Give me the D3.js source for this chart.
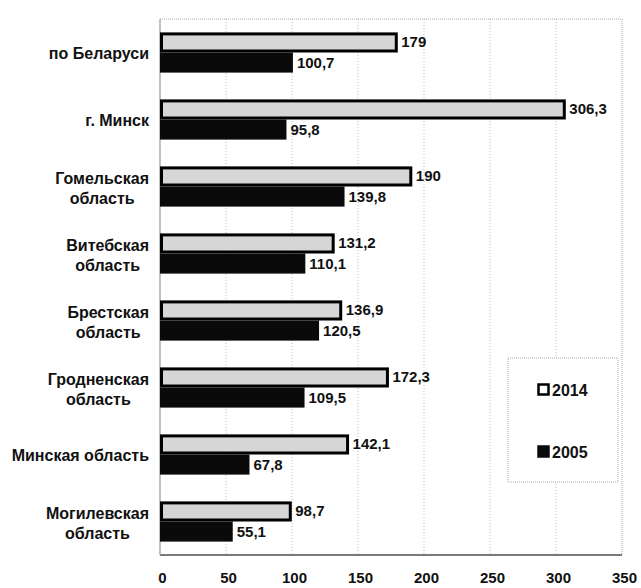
<!DOCTYPE html>
<html><head><meta charset="utf-8">
<script src="https://cdn.jsdelivr.net/npm/d3@7"></script>
<style>body{margin:0;background:#fff;} svg{display:block;font-family:"Liberation Sans",Arial,sans-serif;}</style>
</head><body>
<svg id="c" width="641" height="588"></svg>
<script>
const categories = [
  ["по Беларуси"],
  ["г. Минск"],
  ["Гомельская", "область"],
  ["Витебская", "область"],
  ["Брестская", "область"],
  ["Гродненская", "область"],
  ["Минская область"],
  ["Могилевская", "область"]
];
const values2014 = [179, 306.3, 190, 131.2, 136.9, 172.3, 142.1, 98.7];
const values2005 = [100.7, 95.8, 139.8, 110.1, 120.5, 109.5, 67.8, 55.1];
const labels2014 = ["179", "306,3", "190", "131,2", "136,9", "172,3", "142,1", "98,7"];
const labels2005 = ["100,7", "95,8", "139,8", "110,1", "120,5", "109,5", "67,8", "55,1"];
const xTicks = [0, 50, 100, 150, 200, 250, 300, 350];
const seriesNames = ["2014", "2005"];

const svg = d3.select("#c");
const L = 160, R = 622, T = 19, B = 555;
const x = d3.scaleLinear().domain([0, 350]).range([L, R]);
const idx = categories.map((d, i) => i);
const y = d3.scaleBand().domain(idx).range([T, B]).paddingInner(0.4).paddingOuter(0.2);
const sub = d3.scaleBand().domain([0, 1]).range([0, y.bandwidth()]);

// gridlines
svg.append("g").selectAll("line").data(xTicks.slice(1, -1)).join("line")
  .attr("x1", d => x(d)).attr("x2", d => x(d)).attr("y1", T).attr("y2", B)
  .attr("stroke", "#bbb").attr("stroke-width", 1).attr("stroke-dasharray", "1,2");
// frame
svg.append("rect").attr("x", L).attr("y", T).attr("width", R - L).attr("height", B - T)
  .attr("fill", "none").attr("stroke", "#aaa").attr("stroke-dasharray", "1,1");
svg.append("line").attr("x1", L).attr("x2", R).attr("y1", B).attr("y2", B).attr("stroke", "#555").attr("stroke-width", 1.5);
svg.append("line").attr("x1", L).attr("x2", L).attr("y1", T).attr("y2", B).attr("stroke", "#999").attr("stroke-width", 1);

// x axis
const xAxis = d3.axisBottom(x).tickValues(xTicks).tickSize(0).tickFormat(d3.format("d"));
const ax = svg.append("g").attr("transform", `translate(2,${B + 14})`).call(xAxis);
ax.select(".domain").remove();
ax.selectAll("text").attr("font-size", 15).attr("font-weight", "bold").attr("fill", "#111")
  .attr("font-family", "'Liberation Sans',Arial,sans-serif");

// bars 2014
const g = svg.append("g");
g.selectAll(".b14").data(values2014).join("rect")
  .attr("x", x(0) + 1.5).attr("y", (d, i) => y(i) + sub(0) + 1.5)
  .attr("width", d => x(d) - x(0) - 1.5).attr("height", sub.bandwidth() - 3)
  .attr("fill", "#d6d6d6").attr("stroke", "#000").attr("stroke-width", 3);
g.selectAll(".b05").data(values2005).join("rect")
  .attr("x", x(0)).attr("y", (d, i) => y(i) + sub(1))
  .attr("width", d => x(d) - x(0)).attr("height", sub.bandwidth())
  .attr("fill", "#0a0a0a");

// value labels
g.selectAll(".l14").data(values2014).join("text")
  .attr("x", d => x(d) + 5).attr("y", (d, i) => y(i) + sub(0) + sub.bandwidth() / 2 + 5)
  .attr("font-size", 15).attr("font-weight", "bold").attr("fill", "#111")
  .text((d, i) => labels2014[i]);
g.selectAll(".l05").data(values2005).join("text")
  .attr("x", d => x(d) + 4).attr("y", (d, i) => y(i) + sub(1) + sub.bandwidth() / 2 + 5)
  .attr("font-size", 15).attr("font-weight", "bold").attr("fill", "#111")
  .text((d, i) => labels2005[i]);

// category labels
const cg = svg.append("g");
const FS = 16;
categories.forEach((lines, i) => {
  const cy = y(i) + y.bandwidth() / 2;
  const t = cg.append("text").attr("font-size", FS).attr("font-weight", "bold").attr("fill", "#111");
  if (lines.length === 1) {
    t.attr("x", 149).attr("y", cy + 6).attr("text-anchor", "end").text(lines[0]);
  } else {
    const tmp = cg.append("text").attr("font-size", FS).attr("font-weight", "bold").text(lines[0]);
    const w = tmp.node().getComputedTextLength(); tmp.remove();
    const cx = 149 - w / 2;
    t.attr("text-anchor", "middle");
    lines.forEach((ln, k) => {
      t.append("tspan").attr("x", cx).attr("y", cy - 3 + k * 20).text(ln);
    });
  }
});

// legend
const lg = svg.append("g");
lg.append("rect").attr("x", 508).attr("y", 358).attr("width", 110).attr("height", 124)
  .attr("fill", "#fff").attr("stroke", "#aaa").attr("stroke-dasharray", "1,1");
const leg = [{y: 390, fill: "#fff", stroke: "#000"}, {y: 452, fill: "#0a0a0a", stroke: "#0a0a0a"}];
leg.forEach((l, k) => {
  lg.append("rect").attr("x", 538.5).attr("y", l.y - 5.5).attr("width", 10).attr("height", 10)
    .attr("fill", l.fill).attr("stroke", l.stroke).attr("stroke-width", 2.5);
  lg.append("text").attr("x", 552).attr("y", l.y + 6).attr("font-size", 16).attr("font-weight", "bold")
    .attr("fill", "#111").text(seriesNames[k]);
});
</script>
</body></html>
